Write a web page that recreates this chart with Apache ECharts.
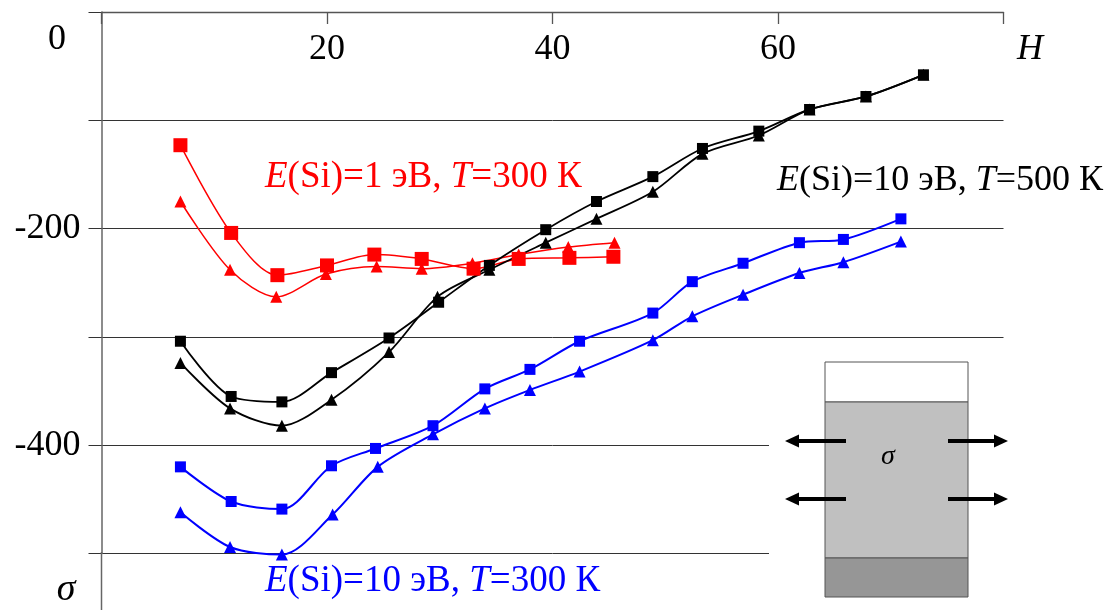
<!DOCTYPE html>
<html>
<head>
<meta charset="utf-8">
<title>sigma(H)</title>
<script src="https://cdn.jsdelivr.net/npm/echarts@6/dist/echarts.min.js"></script>
<style>
  html, body { margin: 0; padding: 0; background: #fff; }
  #main { width: 1117px; height: 610px; }
</style>
</head>
<body>
<div id="main"></div>
<script>
// x ticks (H) and y ticks (sigma)
var xTicks = [20, 40, 60];
var yTicks = [-200, -400];

// E(Si)=1 eV, T=300 K  (red)
var redSqH = [7.0, 11.5, 15.6, 20.0, 24.2, 28.4, 33.0, 37.0, 41.5, 45.4];
var redSqS = [-123, -204, -243, -234, -224, -228, -237, -228, -227, -226];
var redTrH = [7.0, 11.4, 15.5, 19.9, 24.4, 28.4, 32.9, 37.0, 41.4, 45.5];
var redTrS = [-175, -238, -263, -242, -235, -237, -232, -224, -217, -213];

// E(Si)=10 eV, T=500 K  (black)
var blkSqH = [7.0, 11.5, 16.0, 20.4, 25.5, 29.9, 34.4, 39.4, 43.9, 48.9, 53.3, 58.3, 62.8, 67.8, 72.9];
var blkSqS = [-304, -355, -360, -333, -301, -268, -234, -201, -175, -152, -126, -110, -90, -78, -58];
var blkTrH = [7.0, 11.4, 16.0, 20.4, 25.5, 29.8, 34.4, 39.4, 43.9, 48.9, 53.3, 58.3, 62.8, 67.8, 72.9];
var blkTrS = [-324, -366, -382, -358, -314, -263, -238, -213, -191, -166, -131, -114, -90, -78, -58];

// E(Si)=10 eV, T=300 K  (blue)
var bluSqH = [7.0, 11.5, 16.0, 20.4, 24.3, 29.4, 34.0, 38.0, 42.4, 48.9, 52.4, 56.9, 61.9, 65.8, 70.9];
var bluSqS = [-420, -452, -459, -419, -403, -382, -348, -330, -304, -278, -249, -232, -213, -210, -191];
var bluTrH = [7.0, 11.4, 16.0, 20.5, 24.5, 29.4, 34.0, 38.0, 42.4, 48.9, 52.4, 56.9, 61.9, 65.8, 70.9];
var bluTrS = [-462, -494, -501, -464, -420, -390, -366, -349, -332, -303, -281, -261, -241, -231, -212];

var serif = 'Liberation Serif';

function pairs(xs, ys) {
    var out = [];
    for (var i = 0; i < xs.length; i++) out.push([xs[i], ys[i]]);
    return out;
}

function curve(xs, ys, color, symbol, size, width) {
    return {
        type: 'line',
        data: pairs(xs, ys),
        smooth: 0.3,
        symbol: symbol,
        symbolSize: size,
        showAllSymbol: true,
        clip: false,
        itemStyle: { color: color },
        lineStyle: { color: color, width: width },
        animation: false
    };
}

// label text with italic E and T
function caption(x, y, color, size, body, tail) {
    return {
        type: 'text',
        z: 10,
        style: {
            x: x, y: y,
            text: '{i|E}(Si)=' + body + ', {i|T}=' + tail,
            fill: color,
            font: size + 'px "' + serif + '"',
            verticalAlign: 'middle',
            rich: {
                i: { fontStyle: 'italic', fontFamily: serif, fontSize: size, fill: color }
            }
        }
    };
}

function arrow(x1, x2, y) {
    var dir = x2 > x1 ? 1 : -1;
    return [
        { type: 'line', z: 12, shape: { x1: x1, y1: y, x2: x2 - dir * 10, y2: y },
          style: { stroke: '#000', lineWidth: 4 } },
        { type: 'polygon', z: 12,
          shape: { points: [[x2, y], [x2 - dir * 14, y - 6.5], [x2 - dir * 14, y + 6.5]] },
          style: { fill: '#000' } }
    ];
}

var chart = echarts.init(document.getElementById('main'));

var graphics = [
    // y axis line continues below the last grid line
    { type: 'line', z: 1, shape: { x1: 101.5, y1: 552, x2: 101.5, y2: 610 }, style: { stroke: '#666', lineWidth: 1.5 } },
    // white panel behind the inset (hides the lower grid lines)
    { type: 'rect', z: 8, shape: { x: 769, y: 352, width: 348, height: 258 }, style: { fill: '#fff' } },
    // inset: film on substrate
    { type: 'rect', z: 9, shape: { x: 825, y: 362, width: 143, height: 40 }, style: { fill: '#fff', stroke: '#555', lineWidth: 1 } },
    { type: 'rect', z: 9, shape: { x: 825, y: 402, width: 143, height: 156 }, style: { fill: '#c0c0c0', stroke: '#555', lineWidth: 1 } },
    { type: 'rect', z: 9, shape: { x: 825, y: 558, width: 143, height: 39 }, style: { fill: '#969696', stroke: '#555', lineWidth: 1 } },
    { type: 'text', z: 12, style: { x: 888, y: 457, text: 'σ', fill: '#000', font: 'italic 28px "' + serif + '"', align: 'center', verticalAlign: 'middle' } },
    // axis captions
    { type: 'text', z: 10, style: { x: 57, y: 40, text: '0', fill: '#000', font: '36px "' + serif + '"', align: 'center', verticalAlign: 'middle' } },
    { type: 'text', z: 10, style: { x: 1030, y: 50, text: 'H', fill: '#000', font: 'italic 36px "' + serif + '"', align: 'center', verticalAlign: 'middle' } },
    { type: 'text', z: 10, style: { x: 66, y: 590, text: 'σ', fill: '#000', font: 'italic 38px "' + serif + '"', align: 'center', verticalAlign: 'middle' } },
    caption(265, 177, '#ff0000', 37, '1 эВ', '300 К'),
    caption(777, 181, '#000000', 36, '10 эВ', '500 К'),
    caption(265, 581, '#0000ff', 37, '10 эВ', '300 К')
]
    .concat(arrow(846, 785, 441))
    .concat(arrow(846, 785, 499))
    .concat(arrow(948, 1008, 441))
    .concat(arrow(948, 1008, 499));

var option = {
    backgroundColor: '#fff',
    animation: false,
    grid: { left: 101.5, top: 12, width: 902, height: 541.5 },
    xAxis: {
        type: 'value',
        position: 'top',
        min: 0,
        max: 80,
        interval: 20,
        axisLine: { show: true, lineStyle: { color: '#555', width: 1.3 } },
        axisTick: { show: true, inside: true, length: 12, lineStyle: { color: '#555', width: 1.3 } },
        axisLabel: {
            inside: true,
            margin: 20,
            color: '#000',
            fontFamily: serif,
            fontSize: 36,
            formatter: function (v) { return xTicks.indexOf(v) >= 0 ? String(v) : ''; }
        },
        splitLine: { show: false }
    },
    yAxis: {
        type: 'value',
        min: -500,
        max: 0,
        interval: 100,
        axisLine: { show: true, onZero: false, lineStyle: { color: '#666', width: 1.5 } },
        axisTick: { show: true, length: 13, lineStyle: { color: '#333', width: 1 } },
        axisLabel: {
            margin: 21,
            color: '#000',
            fontFamily: serif,
            fontSize: 36,
            formatter: function (v) { return yTicks.indexOf(v) >= 0 ? String(v) : ''; }
        },
        splitLine: { show: true, lineStyle: { color: '#333', width: 1 } }
    },
    series: [
        curve(redSqH, redSqS, '#ff0000', 'rect', 14, 1.5),
        curve(redTrH, redTrS, '#ff0000', 'triangle', 12, 1.5),
        curve(blkSqH, blkSqS, '#000000', 'rect', 11, 1.8),
        curve(blkTrH, blkTrS, '#000000', 'triangle', 12, 1.8),
        curve(bluSqH, bluSqS, '#0000ff', 'rect', 11, 2),
        curve(bluTrH, bluTrS, '#0000ff', 'triangle', 12, 2)
    ],
    graphic: graphics
};

chart.setOption(option);
</script>
</body>
</html>
